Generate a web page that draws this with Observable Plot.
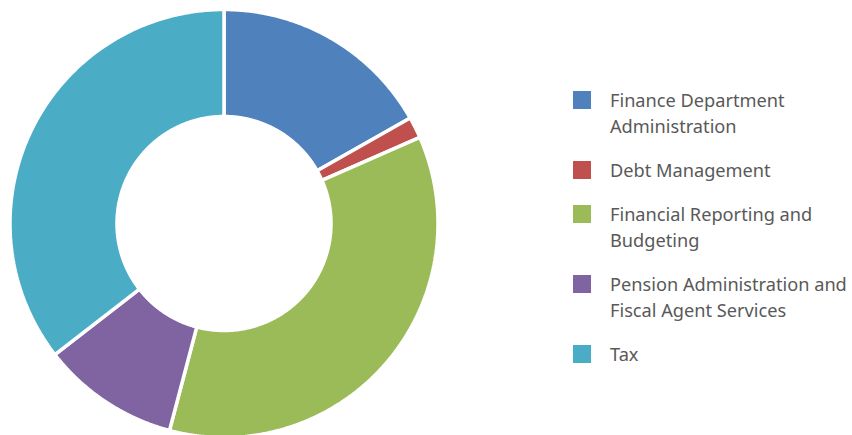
<!DOCTYPE html>
<html>
<head>
<meta charset="utf-8">
<script src="https://cdn.jsdelivr.net/npm/d3@7"></script>
<script src="https://cdn.jsdelivr.net/npm/@observablehq/plot@0.6"></script>
<style>
  html, body { margin: 0; padding: 0; background: #fff; }
  #wrap { position: relative; width: 852px; height: 435px; overflow: hidden; }
  #chart { position: absolute; left: 0; top: 0; }
  #legend { position: absolute; left: 573px; top: 87px; display: flex; flex-direction: column; gap: 18px;
    font-family: "Noto Sans", sans-serif; font-size: 18.2px; line-height: 26px; color: #595959; white-space: nowrap; }
  .item { position: relative; padding-left: 37px; }
  .sw { position: absolute; left: 0; top: 4px; width: 18px; height: 18px; }
</style>
</head>
<body>
<div id="wrap"><div id="chart"></div><div id="legend"></div></div>
<script>
const categories = [
  "Finance Department Administration",
  "Debt Management",
  "Financial Reporting and Budgeting",
  "Pension Administration and Fiscal Agent Services",
  "Tax"
];
const legendLines = [
  ["Finance Department", "Administration"],
  ["Debt Management"],
  ["Financial Reporting and", "Budgeting"],
  ["Pension Administration and", "Fiscal Agent Services"],
  ["Tax"]
];
const values = [16.8, 1.6, 35.7, 10.4, 35.5];
const colors = ["#4F81BD", "#C0504D", "#9BBB59", "#8064A2", "#4BACC6"];

const innerRatio = 0.5;
const pie = d3.pie().sort(null).value(d => d.value)(categories.map((c, i) => ({category: c, value: values[i]})));

const pts = [];
for (const s of pie) {
  const a0 = s.startAngle, a1 = s.endAngle;
  const n = Math.max(4, Math.ceil((a1 - a0) / (Math.PI / 360)));
  for (let k = 0; k <= n; k++) {
    const a = a0 + (a1 - a0) * k / n;
    pts.push({category: s.data.category, x: Math.sin(a), y: Math.cos(a)});
  }
  for (let k = n; k >= 0; k--) {
    const a = a0 + (a1 - a0) * k / n;
    pts.push({category: s.data.category, x: innerRatio * Math.sin(a), y: innerRatio * Math.cos(a)});
  }
}

const cx = 223.5, cy = 223, R = 214;
const chart = Plot.plot({
  width: 852,
  height: 435,
  margin: 0,
  x: {domain: [-1, 1], range: [cx - R, cx + R], axis: null},
  y: {domain: [-1, 1], range: [cy + R, cy - R], axis: null},
  color: {domain: categories, range: colors},
  marks: [
    Plot.line(pts, {x: "x", y: "y", z: "category", fill: "category", stroke: "#fff", strokeWidth: 3.5, curve: "linear-closed", strokeLinejoin: "miter"})
  ]
});
document.getElementById("chart").appendChild(chart);

const legend = document.getElementById("legend");
categories.forEach((c, i) => {
  const it = document.createElement("div");
  it.className = "item";
  const sw = document.createElement("div");
  sw.className = "sw";
  sw.style.background = colors[i];
  it.appendChild(sw);
  legendLines[i].forEach(l => {
    const d = document.createElement("div");
    d.textContent = l;
    it.appendChild(d);
  });
  legend.appendChild(it);
});
</script>
</body>
</html>
